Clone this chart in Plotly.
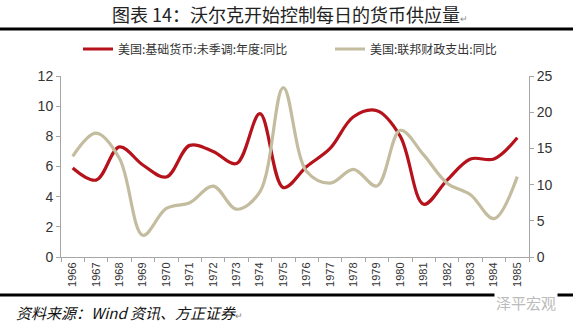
import plotly.graph_objects as go

years = [str(y) for y in range(1966, 1986)]
base_money = [5.9, 5.1, 7.3, 6.1, 5.3, 7.4, 7.0, 6.2, 9.5, 4.6,
              6.0, 7.2, 9.3, 9.7, 8.0, 3.5, 5.1, 6.5, 6.5, 7.9]
fed_spending = [13.9, 17.1, 13.6, 3.0, 6.7, 7.5, 9.8, 6.6, 9.0, 23.4,
                11.8, 10.2, 12.1, 9.8, 17.5, 14.1, 10.2, 8.6, 5.3, 11.1]

name1 = "美国:基础货币:未季调:年度:同比"
name2 = "美国:联邦财政支出:同比"
title_text = "图表 14：沃尔克开始控制每日的货币供应量"
source_text = "资料来源：Wind 资讯、方正证券"

W, H = 573, 326
L, R, T, B = 61, 529, 76, 257


def px(x):
    return (x - L) / (R - L)


def py(y):
    return (B - y) / (B - T)


FONT = "Noto Sans CJK SC"

fig = go.Figure()
fig.add_trace(go.Scatter(x=years, y=base_money, name=name1, mode="lines", legend="legend",
                         line=dict(color="#B5121B", width=3.2, shape="spline", smoothing=1.0)))
fig.add_trace(go.Scatter(x=years, y=fed_spending, name=name2, mode="lines", yaxis="y2",
                         legend="legend2",
                         line=dict(color="#C4BC9F", width=3.2, shape="spline", smoothing=1.0)))

axis_color = "#A6A6A6"
leg_font = dict(size=12, family=FONT, color="#333333")
fig.update_layout(
    width=W, height=H,
    margin=dict(l=L, r=W - R, t=T, b=H - B),
    paper_bgcolor="white", plot_bgcolor="white",
    font=dict(family=FONT, color="#333333"),
    showlegend=True,
    legend=dict(orientation="h", x=px(78), xanchor="left", y=py(49), yanchor="middle",
                font=leg_font, bgcolor="rgba(0,0,0,0)", itemwidth=30),
    legend2=dict(orientation="h", x=px(330), xanchor="left", y=py(49), yanchor="middle",
                 font=leg_font, bgcolor="rgba(0,0,0,0)", itemwidth=30),
    xaxis=dict(type="category", tickangle=-90, showline=True, linecolor=axis_color, linewidth=1,
               ticks="outside", tickson="boundaries", ticklen=4, tickcolor=axis_color,
               tickfont=dict(size=11, family="Liberation Sans", color="#333333"),
               showgrid=False, zeroline=False, range=[-0.5, 19.5]),
    yaxis=dict(range=[0, 12], dtick=2, showline=True, linecolor=axis_color, linewidth=1,
               ticks="outside", ticklen=4, tickcolor=axis_color, showgrid=False, zeroline=False,
               tickfont=dict(size=14, family="Liberation Sans", color="#333333")),
    yaxis2=dict(range=[0, 25], dtick=5, overlaying="y", side="right", showline=True,
                linecolor=axis_color, linewidth=1, ticks="outside", ticklen=4, tickcolor=axis_color,
                showgrid=False, zeroline=False,
                tickfont=dict(size=14, family="Liberation Sans", color="#333333")),
)

shapes = [
    dict(type="line", xref="paper", yref="paper", x0=px(0), x1=px(W), y0=py(29), y1=py(29),
         line=dict(color="black", width=3)),
    dict(type="line", xref="paper", yref="paper", x0=px(0), x1=px(W), y0=py(295), y1=py(295),
         line=dict(color="black", width=3)),
]
fig.update_layout(shapes=shapes)

annotations = [
    dict(text=title_text + "<span style='font-size:9px;color:#888'>↵</span>", xref="paper", yref="paper",
         x=px(290), y=py(14), xanchor="center", yanchor="middle", showarrow=False,
         font=dict(size=18, family=FONT, color="#222222")),
    dict(text="<i>" + source_text + "</i><span style='font-size:9px;color:#888'>↵</span>",
         xref="paper", yref="paper", x=px(14), y=py(312), xanchor="left", yanchor="middle",
         showarrow=False, font=dict(size=15, family=FONT, color="#111111")),
    dict(text="泽平宏观", xref="paper", yref="paper", x=px(526), y=py(302), xanchor="center",
         yanchor="middle", showarrow=False, bgcolor="white",
         font=dict(size=15, family=FONT, color="#BBBBBB")),
]
fig.update_layout(annotations=annotations)

fig.write_html("out.html")
